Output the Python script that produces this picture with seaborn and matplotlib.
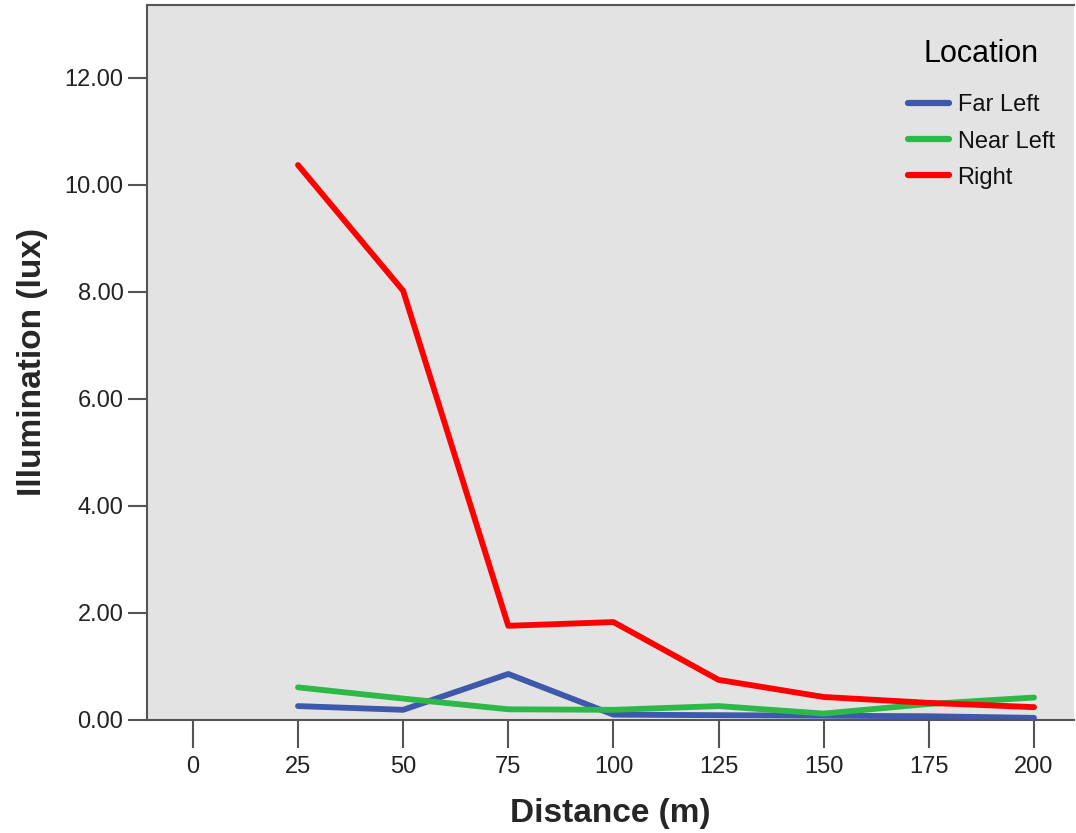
import matplotlib
matplotlib.use("Agg")
import matplotlib.pyplot as plt
import seaborn as sns
import pandas as pd

distance = [25, 50, 75, 100, 125, 150, 175, 200]
far_left = [0.26, 0.19, 0.86, 0.10, 0.09, 0.08, 0.07, 0.04]
near_left = [0.61, 0.40, 0.20, 0.19, 0.26, 0.12, 0.30, 0.42]
right = [10.37, 8.02, 1.76, 1.83, 0.75, 0.43, 0.32, 0.24]
locations = ["Far Left", "Near Left", "Right"]
colors = ["#3E58AC", "#2EB848", "#FF0000"]

rows = []
for loc, vals in zip(locations, [far_left, near_left, right]):
    for d, v in zip(distance, vals):
        rows.append({"Distance": d, "Illumination": v, "Location": loc})
df = pd.DataFrame(rows)

sns.set_theme(style="white")
plt.rcParams['font.family'] = ['Liberation Sans', 'DejaVu Sans']

fig = plt.figure(figsize=(10.76, 8.33), dpi=100)
ax = fig.add_axes([147/1076, 1 - 720/833, (1074 - 147)/1076, (720 - 5)/833])
ax.set_facecolor("#E3E3E3")

sns.lineplot(data=df, x="Distance", y="Illumination", hue="Location",
             hue_order=locations, palette=colors, linewidth=4.2, ax=ax)

ax.set_xlim(-10.9, 209.5)
ax.set_ylim(0, 13.36)
ax.set_xticks([0, 25, 50, 75, 100, 125, 150, 175, 200])
ax.set_yticks([0, 2, 4, 6, 8, 10, 12])
ax.set_yticklabels([f"{v:.2f}" for v in [0, 2, 4, 6, 8, 10, 12]])

for s in ax.spines.values():
    s.set_color("#555555")
    s.set_linewidth(1.5)
ax.spines['right'].set_visible(False)

ax.tick_params(axis='y', direction='out', length=14, width=1.5, color="#555555",
               labelsize=17, labelcolor="#222222", pad=3, left=True)
ax.tick_params(axis='x', direction='out', length=20, width=1.5, color="#555555",
               labelsize=17, labelcolor="#222222", pad=6, bottom=True)

ax.set_xlabel("Distance (m)", fontsize=24, fontweight='bold', labelpad=14)
ax.set_ylabel("Illumination (lux)", fontsize=24, fontweight='bold', labelpad=12)

leg = ax.legend(title="Location", loc='upper right', bbox_to_anchor=(0.997, 0.975),
                frameon=False, fontsize=17, title_fontsize=22,
                handlelength=1.75, handletextpad=0.35, labelspacing=0.6,
                borderaxespad=0.3)
for line in leg.get_lines():
    line.set_linewidth(4.5)
for t in leg.get_texts():
    t.set_color("#111111")
leg.get_title().set_color("#000000")
leg._legend_box.sep = 18

fig.savefig("out.png", dpi=100)
